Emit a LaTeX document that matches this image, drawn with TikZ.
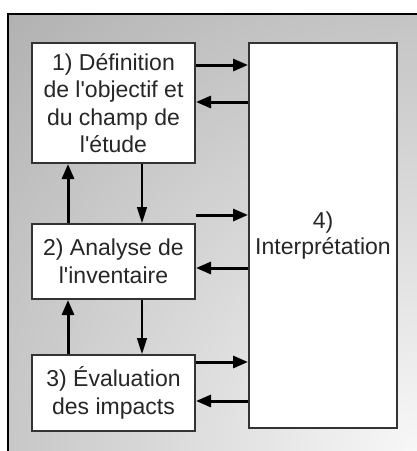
\documentclass[tikz,border=0pt]{standalone}
\usepackage{fontspec}
\setmainfont{Liberation Sans}
\usetikzlibrary{positioning,arrows.meta}

\pgfdeclareradialshading{cornerglow}{\pgfpoint{0bp}{0bp}}{color(0bp)=(white!97!black); color(38bp)=(white!55!black); color(50bp)=(white!55!black)}

\begin{document}
\begin{tikzpicture}[
    x=1pt, y=1pt,
    stagebox/.style={rectangle, draw=black!80, line width=2pt, fill=white, minimum width=163pt, inner sep=0pt,
        text=black!85, align=center, font=\fontsize{23}{27.5}\selectfont},
    thickarrow/.style={-{Triangle[length=15pt,width=12pt]}, line width=3pt},
    thinarrow/.style={-{Triangle[length=16pt,width=10pt]}, line width=1.5pt}
]

\useasboundingbox (0,0) rectangle (417,-451);
\fill[white] (0,0) rectangle (417,-451);

% Background
\begin{scope}
    \clip (8,-14) rectangle (420,-455);
    \shade[shading=cornerglow] (-183,-1051) rectangle (1017,149);
\end{scope}
\draw[line width=2pt] (8,-455) -- (8,-14) -- (420,-14);

\node[stagebox, minimum height=120pt] (defn) at (113.5,-103) {
    1) Définition\\
    de l\textquotesingle objectif et\\
    du champ de\\
    l\textquotesingle étude
};

\node[stagebox, minimum height=75pt, below=59pt of defn] (inventory) {
    2) Analyse de\\
    l\textquotesingle inventaire
};

\node[stagebox, minimum height=76pt, below=54pt of inventory] (impacts) {
    3) Évaluation\\
    des impacts
};

\node[stagebox, minimum width=148pt, minimum height=385pt, anchor=north west] (interp)
    at ([xshift=52pt]defn.north east) {
    4)\\[-2pt]
    Interprétation
};

% Arrows to and from the interpretation
\draw[thickarrow] ([yshift=-23pt]defn.north east) -- ([yshift=-23pt]defn.north east -| interp.west);
\draw[thickarrow] ([yshift=-60pt]defn.north east -| interp.west) -- ([yshift=-60pt]defn.north east);
\draw[thickarrow] ([yshift=8pt]inventory.north east) -- ([yshift=8pt]inventory.north east -| interp.west);
\draw[thickarrow] ([yshift=-45pt]inventory.north east -| interp.west) -- ([yshift=-45pt]inventory.north east);
\draw[thickarrow] ([yshift=-8pt]impacts.north east) -- ([yshift=-8pt]impacts.north east -| interp.west);
\draw[thickarrow] ([yshift=-47pt]impacts.north east -| interp.west) -- ([yshift=-47pt]impacts.north east);

% Arrows between the phases
\draw[thinarrow] ([xshift=111pt]defn.south west) -- ([xshift=111pt]defn.south west |- inventory.north);
\draw[thickarrow] ([xshift=37pt]inventory.north west) -- ([xshift=37pt]inventory.north west |- defn.south);
\draw[thinarrow] ([xshift=111pt]inventory.south west) -- ([xshift=111pt]inventory.south west |- impacts.north);
\draw[thickarrow] ([xshift=37pt]impacts.north west) -- ([xshift=37pt]impacts.north west |- inventory.south);

\end{tikzpicture}
\end{document}
